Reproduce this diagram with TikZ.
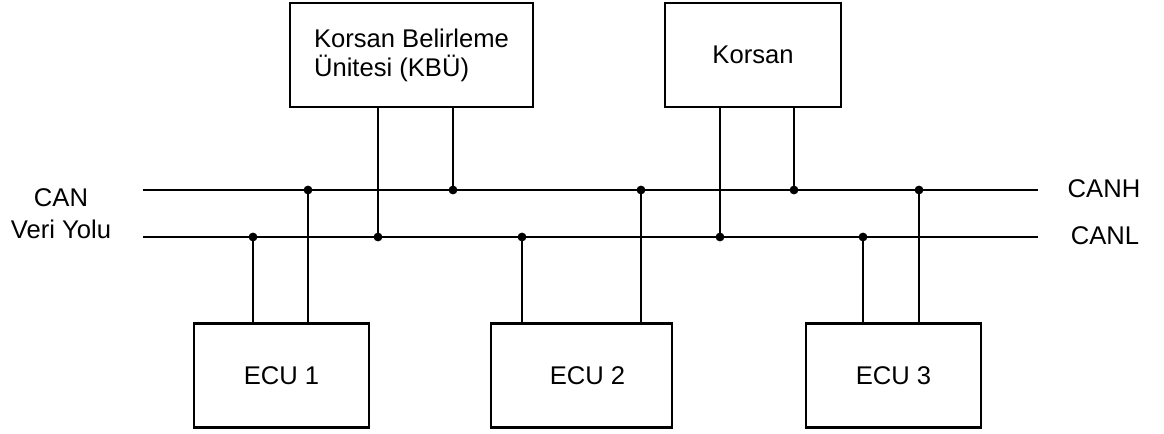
\documentclass[tikz,border=0pt]{standalone}
\usepackage{fontspec}
\setmainfont{Liberation Sans}
\usetikzlibrary{positioning, calc}

\begin{document}
\begin{tikzpicture}[
    x=0.5pt, y=-0.5pt,
    unit/.style={draw, line width=1.2pt, minimum height=52pt, inner sep=2pt,
                 align=left, font=\fontsize{12.8}{14.5}\selectfont},
    wire/.style={line width=1.2pt},
    tap/.style={circle, fill, inner sep=0pt, minimum size=4.4pt},
    buslabel/.style={font=\fontsize{12.8}{16}\selectfont, align=center}
  ]
  \useasboundingbox (0,0) rectangle (1164,434);

  % upper units
  \node[unit, minimum width=121.5pt] (kbu) at (411.5,55) {Korsan Belirleme\\Ünitesi (KBÜ)};
  \node[unit, minimum width=88pt]    (kor) at (753,55)   {Korsan};

  % ECUs
  \node[unit, minimum width=87.5pt] (ecu1) at (281.5,375.5) {ECU 1};
  \node[unit, minimum width=90.5pt] (ecu2) at (581.5,375.5) {\hspace*{6pt}ECU 2};
  \node[unit, minimum width=87.5pt] (ecu3) at (893.5,375.5) {ECU 3};

  % bus lines
  \coordinate (hw) at (143,190);
  \coordinate (he) at (1038,190);
  \coordinate (lw) at (143,237);
  \coordinate (le) at (1038,237);
  \draw[wire] (hw) -- (he);
  \draw[wire] (lw) -- (le);

  \node[buslabel] (can)  at (61,214)   {CAN\\Veri Yolu};
  \node[buslabel] (canh) at (1104,189) {CANH};
  \node[buslabel] (canl) at (1105,236) {CANL};

  % taps
  \foreach \n/\x in {e1/253, k/378, e2/522, s/720, e3/863}
    \node[tap] (l\n) at (\x,237) {};
  \foreach \n/\x in {e1/308, k/453, e2/641, s/794, e3/919}
    \node[tap] (h\n) at (\x,190) {};

  % stubs
  \draw[wire] (ecu1.north -| le1) -- (le1.center);
  \draw[wire] (ecu1.north -| he1) -- (he1.center);
  \draw[wire] (kbu.south -| lk) -- (lk.center);
  \draw[wire] (kbu.south -| hk) -- (hk.center);
  \draw[wire] (ecu2.north -| le2) -- (le2.center);
  \draw[wire] (ecu2.north -| he2) -- (he2.center);
  \draw[wire] (kor.south -| ls) -- (ls.center);
  \draw[wire] (kor.south -| hs) -- (hs.center);
  \draw[wire] (ecu3.north -| le3) -- (le3.center);
  \draw[wire] (ecu3.north -| he3) -- (he3.center);

\end{tikzpicture}
\end{document}
